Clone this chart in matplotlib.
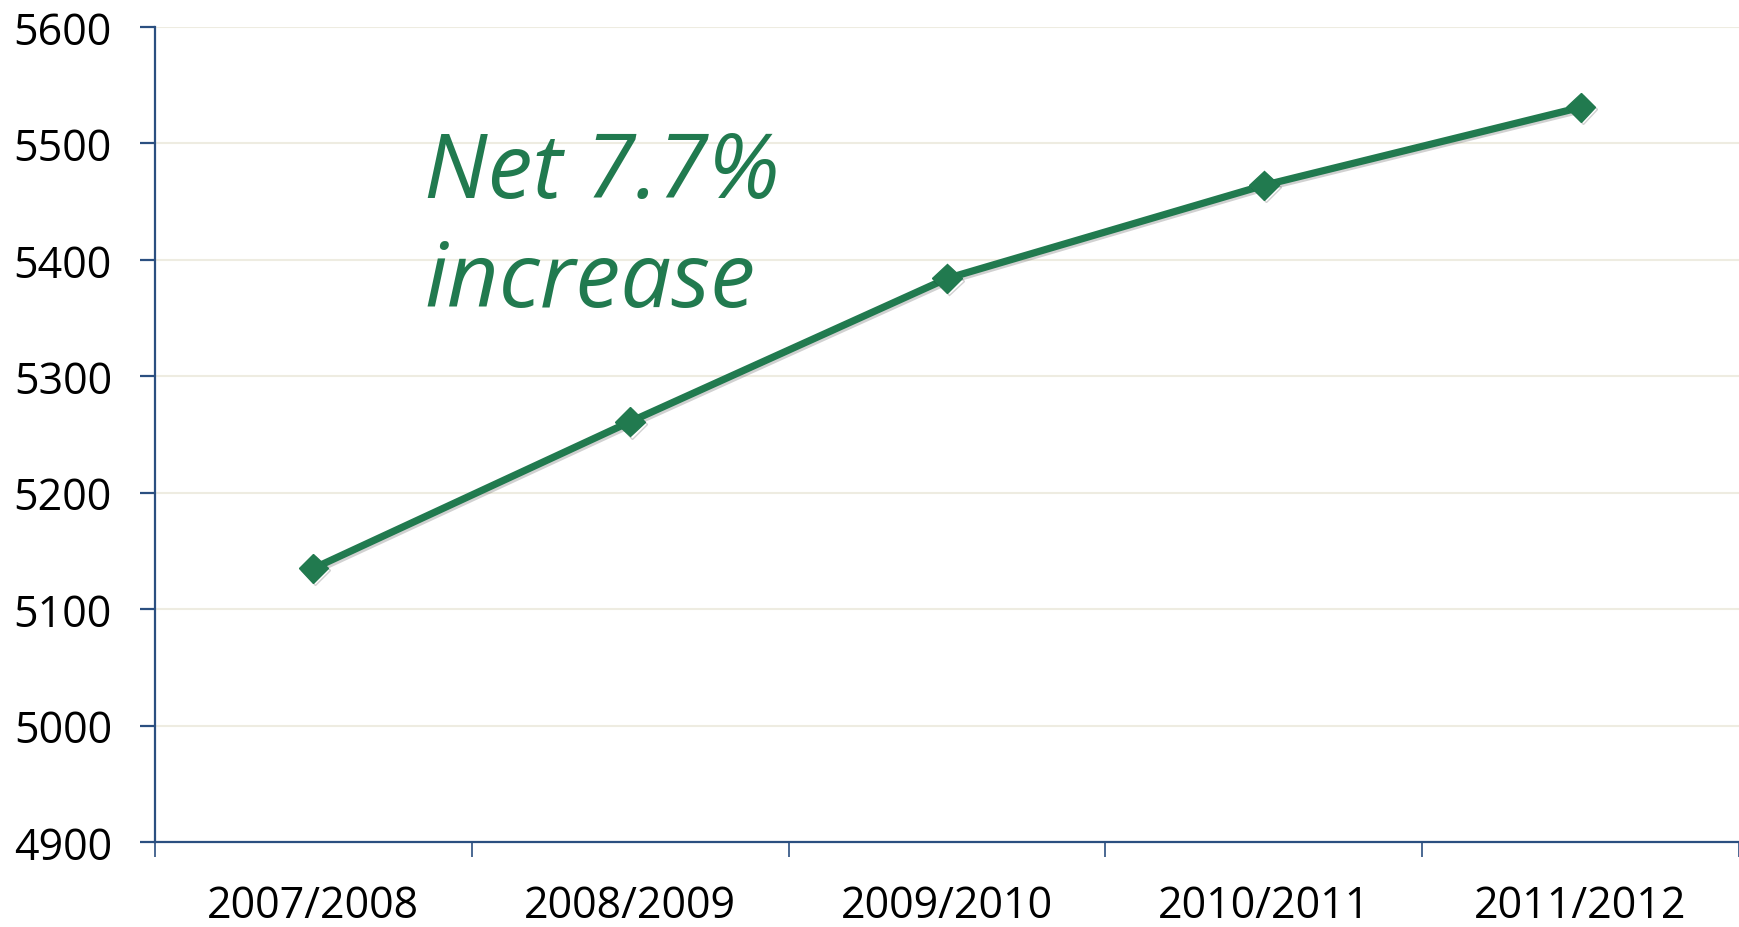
import matplotlib
matplotlib.use("Agg")
import matplotlib.pyplot as plt
import matplotlib.patheffects as pe

categories = ["2007/2008", "2008/2009", "2009/2010", "2010/2011", "2011/2012"]
values = [5135, 5261, 5384, 5464, 5531]
y_ticks = [4900, 5000, 5100, 5200, 5300, 5400, 5500, 5600]
annotation = "Net 7.7%\nincrease"

GREEN = "#217A4F"
AXIS = "#2B4F80"
GRID = "#EEECE1"

plt.rcParams["font.family"] = ["Open Sans", "DejaVu Sans"]

fig = plt.figure(figsize=(17.39, 9.28), dpi=100)
ax = fig.add_axes([155/1739, 1 - 843/928, 1 - 155/1739, (843 - 28)/928])

x = list(range(len(categories)))
shadow = [pe.SimpleLineShadow(offset=(1.5, -1.5), shadow_color="black", alpha=0.18), pe.Normal()]
ax.plot(x, values, color=GREEN, lw=5.2, marker="D", markersize=15,
        markeredgecolor=GREEN, markerfacecolor=GREEN, path_effects=shadow, zorder=3,
        solid_joinstyle="miter")

ax.set_xlim(-0.5, len(categories) - 0.5)
ax.set_ylim(y_ticks[0], y_ticks[-1])
ax.set_yticks(y_ticks)
ax.set_yticklabels([str(v) for v in y_ticks])

ax.set_xticks([i - 0.5 for i in range(len(categories) + 1)])
ax.set_xticklabels([])
ax.set_xticks(x, minor=True)
ax.set_xticklabels(categories, minor=True)

ax.tick_params(axis="x", which="major", length=11, width=1.2, color=AXIS, direction="out")
ax.tick_params(axis="x", which="minor", length=0, pad=30, labelsize=31)
ax.tick_params(axis="y", which="major", length=11, width=1.6, color=AXIS, direction="out",
               pad=20, labelsize=31)

for s in ["top", "right"]:
    ax.spines[s].set_visible(False)
for s in ["left", "bottom"]:
    ax.spines[s].set_color(AXIS)
    ax.spines[s].set_linewidth(1.6)

ax.grid(axis="y", color=GRID, lw=1.5)
ax.set_axisbelow(True)

ax.text(0.170, 0.875, annotation, transform=ax.transAxes, fontsize=65, style="italic",
        color=GREEN, va="top", ha="left", linespacing=1.27)

fig.savefig("out.png", dpi=100)
